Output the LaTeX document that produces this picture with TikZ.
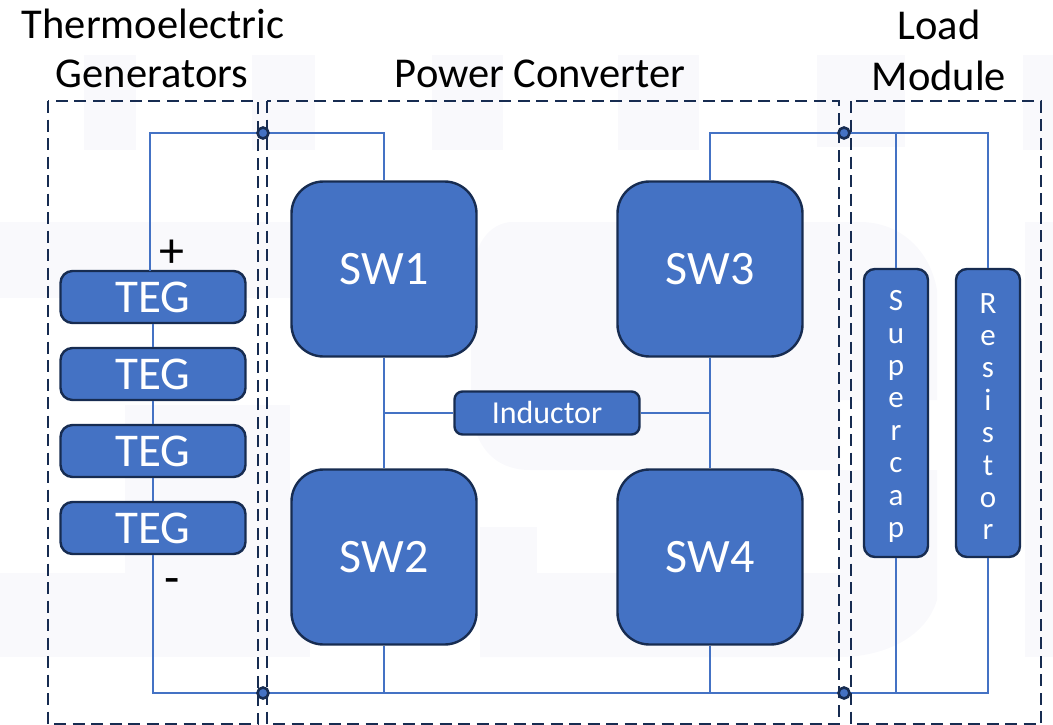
\documentclass[tikz,border=0pt]{standalone}
\usepackage{fontspec}
\setmainfont{Carlito}
\definecolor{fillb}{HTML}{4472C4}
\definecolor{edgeb}{HTML}{172C51}
\definecolor{wm}{HTML}{F9F9FC}
\tikzset{
 x=1pt,y=-1pt,
 wire/.style={draw=fillb,line width=2.5pt},
 box/.style={draw=edgeb,fill=fillb,line width=2.4pt,text=white,inner sep=0pt},
 teg/.style={box,rounded corners=12pt,minimum width=185pt,minimum height=52pt,font=\fontsize{47}{47}\selectfont},
 sw/.style={box,rounded corners=32pt,minimum width=185pt,minimum height=175pt,font=\fontsize{48}{48}\selectfont},
 indbox/.style={box,rounded corners=8pt,minimum width=185pt,minimum height=43pt,font=\fontsize{32}{32}\selectfont},
 vbox/.style={box,rounded corners=11pt,minimum width=64pt,minimum height=288pt,font=\fontsize{31}{32.4}\selectfont,align=center},
 region/.style={draw=edgeb,line width=2.6pt,dash pattern=on 12pt off 6.5pt},
 title/.style={font=\fontsize{42.5}{42.5}\selectfont,text=black,inner sep=0pt},
 sign/.style={font=\fontsize{50}{50}\selectfont,text=black,inner sep=0pt},
 dot/.style={circle,draw=edgeb,fill=fillb,line width=2.6pt,minimum size=11pt,inner sep=0pt},
 wmark/.style={fill=wm,draw=none},
}
\begin{document}
\begin{tikzpicture}
\useasboundingbox (0,0) rectangle (1053,725);
% faint background
\fill[wmark] (84,55) rectangle (136,150);
\fill[wmark] (252,55) rectangle (315,150);
\fill[wmark] (432,55) rectangle (503,150);
\fill[wmark] (618,55) rectangle (699,150);
\fill[wmark] (817,55) rectangle (905,147);
\fill[wmark] (1023,55) rectangle (1053,150);
\fill[wmark] (0,222) rectangle (290,298);
\fill[wmark] (0,573) rectangle (310,657);
\fill[wmark] (125,405) rectangle (290,600);
\fill[wmark] (1025,222) rectangle (1053,657);
\fill[wmark] (510,222) .. controls (485,225) and (471,250) .. (471,290) -- (471,400) .. controls (471,440) and (490,470) .. (530,470) -- (840,470) -- (840,295) -- (558,295) -- (558,400) -- (937,400) -- (937,290) .. controls (930,250) and (900,222) .. (860,222) -- cycle;
\fill[wmark] (480,527) rectangle (537,573);
\fill[wmark] (480,573) -- (840,573) -- (840,470) -- (937,470) -- (937,600) .. controls (925,640) and (880,657) .. (840,657) -- (480,657) -- cycle;
% nodes
\coordinate (tl) at (263,133);
\coordinate (bl) at (263,693);
\coordinate (tr) at (844,133);
\coordinate (br) at (844,693);
\coordinate (tt) at (150,133);
\coordinate (bt) at (153,693);
\coordinate (t1) at (384,133);
\coordinate (t3) at (710,133);
\coordinate (tc) at (896,133);
\coordinate (tr2) at (988,133);
\coordinate (b2) at (384,693);
\coordinate (b4) at (710,693);
\coordinate (bc) at (896,693);
\coordinate (br2) at (988,693);
\coordinate (mid1) at (384,413);
\coordinate (mid2) at (710,413);
\coordinate (ttop) at (150,271);
\node[teg] (teg1) at (153,297) {TEG};
\node[teg] (teg2) at (153,374) {TEG};
\node[teg] (teg3) at (153,451) {TEG};
\node[teg] (teg4) at (153,528) {TEG};
\node[sw] (sw1) at (384,269) {SW1};
\node[sw] (sw2) at (384,557) {SW2};
\node[sw] (sw3) at (710,269) {SW3};
\node[sw] (sw4) at (710,557) {SW4};
\node[indbox] (ind) at (547,413) {Inductor};
\node[vbox] (cap) at (896,413) {\rule{0pt}{27pt}S\\u\\p\\e\\r\\c\\a\\p};
\node[vbox] (res) at (988,413) {\rule{0pt}{27pt}R\\e\\s\\i\\s\\t\\o\\r};
% wires
\draw[wire] (ttop) -- (tt) -- (tl) -- (t1) -- (sw1.north);
\draw[wire] (teg1) -- (teg2);
\draw[wire] (teg2) -- (teg3);
\draw[wire] (teg3) -- (teg4);
\draw[wire] (teg4.south) -- (bt) -- (bl) -- (br) -- (br2) -- (res.south);
\draw[wire] (cap.south) -- (bc);
\draw[wire] (sw2.south) -- (b2);
\draw[wire] (sw4.south) -- (b4);
\draw[wire] (sw1.south) -- (sw2.north);
\draw[wire] (sw3.south) -- (sw4.north);
\draw[wire] (mid1) -- (ind.west);
\draw[wire] (ind.east) -- (mid2);
\draw[wire] (sw3.north) -- (t3) -- (tr) -- (tr2) -- (res.north);
\draw[wire] (tc) -- (cap.north);
% regions
\draw[region] (48,101) rectangle (258,724);
\draw[region] (267,101) rectangle (839,724);
\draw[region] (851,101) rectangle (1041,724);
\node[dot] (dtl) at (tl) {};
\node[dot] (dbl) at (bl) {};
\node[dot] (dtr) at (tr) {};
\node[dot] (dbr) at (br) {};
% titles
\node[title] (l1) at (153,24) {Thermoelectric};
\node[title] (l2) at (152,74) {Generators};
\node[title] (l3) at (540,74) {Power Converter};
\node[title] (l4) at (939,25) {Load};
\node[title] (l5) at (939,76) {Module};
\node[sign] (plus) at (172,254) {+};
\node[sign] (minus) at (172,587) {-};
\end{tikzpicture}
\end{document}
